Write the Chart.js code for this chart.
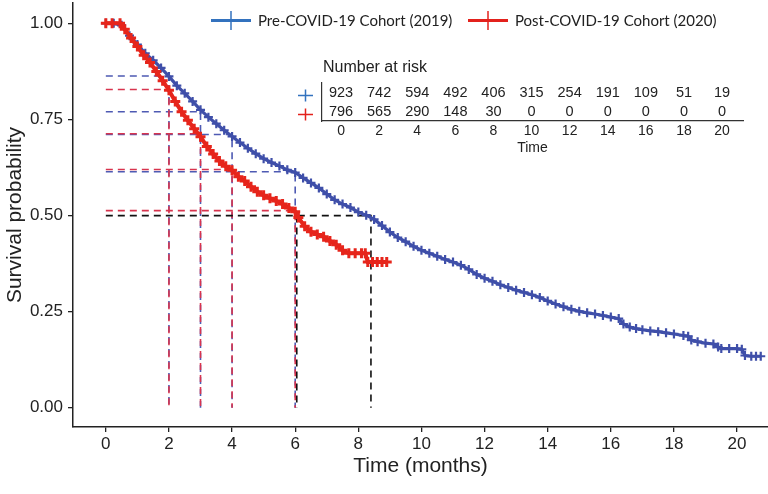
<!DOCTYPE html>
<html>
<head>
<meta charset="utf-8">
<script src="https://cdn.jsdelivr.net/npm/chart.js@4"></script>
<style>
  html, body { margin: 0; padding: 0; background: #fff; }
  #wrap { position: relative; width: 768px; height: 494px; }
  #main-box { position: absolute; left: 0; top: 0; width: 768px; height: 494px; }
  #risk-box { position: absolute; left: 290px; top: 50px; width: 470px; height: 110px; }
  .key {
    position: absolute; top: 10px; height: 20px;
    display: flex; align-items: center;
    font: 15px Lato, "Open Sans", sans-serif; color: #222; white-space: nowrap;
  }
  .swatch { position: relative; width: 40px; height: 3px; margin-right: 7px; }
  .swatch::after {
    content: ""; position: absolute; left: 19px; top: -8px; width: 2px; height: 19px;
    background: inherit; opacity: 0.75;
  }
</style>
</head>
<body>
<div id="wrap">
  <div id="main-box"><canvas id="kmChart"></canvas></div>
  <div id="risk-box"><canvas id="riskChart"></canvas></div>
  <div class="key" style="left:211px"><span class="swatch" style="background:#3372be"></span>Pre-COVID-19 Cohort (2019)</div>
  <div class="key" style="left:468px"><span class="swatch" style="background:#e3211c"></span>Post-COVID-19 Cohort (2020)</div>
</div>

<script>
/* ── Kaplan-Meier curves ─────────────────────────────────────────────── */
const groupNames = ["Pre-COVID-19 Cohort (2019)", "Post-COVID-19 Cohort (2020)"];

const preTimes = [
  0, 0.25, 0.5, 0.75, 1, 1.25, 1.5, 1.75, 2, 2.25, 2.5, 2.75, 3, 3.25, 3.5, 3.75,
  4, 4.25, 4.5, 4.75, 5, 5.25, 5.5, 5.75, 6, 6.25, 6.5, 6.75, 7, 7.25, 7.5, 7.75,
  8, 8.25, 8.5, 8.75, 9, 9.25, 9.5, 9.75, 10, 10.25, 10.5, 10.75, 11, 11.25, 11.5, 11.75,
  12, 12.25, 12.5, 12.75, 13, 13.25, 13.5, 13.75, 14, 14.25, 14.5, 14.75, 15, 15.25, 15.5, 15.75,
  16, 16.25, 16.4, 16.6, 16.8, 17, 17.25, 17.5, 17.75, 18, 18.3, 18.45, 18.55, 18.75, 19, 19.25,
  19.4, 19.5, 19.75, 20, 20.15, 20.25, 20.45, 20.6, 20.75
];
const preSurv = [
  1.0, 1.0, 0.995, 0.968, 0.945, 0.922, 0.904, 0.884, 0.862, 0.838, 0.818, 0.797, 0.775, 0.756, 0.739, 0.722,
  0.706, 0.690, 0.675, 0.661, 0.648, 0.638, 0.629, 0.619, 0.612, 0.598, 0.585, 0.572, 0.556, 0.541, 0.530, 0.521,
  0.509, 0.501, 0.490, 0.474, 0.457, 0.443, 0.432, 0.420, 0.410, 0.402, 0.394, 0.386, 0.379, 0.371, 0.360, 0.347,
  0.337, 0.329, 0.320, 0.313, 0.306, 0.300, 0.294, 0.287, 0.278, 0.270, 0.263, 0.256, 0.251, 0.247, 0.244, 0.240,
  0.236, 0.232, 0.218, 0.210, 0.206, 0.203, 0.200, 0.198, 0.195, 0.192, 0.188, 0.186, 0.176, 0.172, 0.168, 0.166,
  0.158, 0.154, 0.154, 0.154, 0.152, 0.136, 0.134, 0.134, 0.134
];

const postTimes = [
  0, 0.2, 0.45, 0.6, 0.8, 1, 1.2, 1.4, 1.6, 1.8, 2, 2.2, 2.4, 2.6, 2.8, 3, 3.2, 3.4, 3.6, 3.8,
  4, 4.2, 4.4, 4.6, 4.8, 5, 5.2, 5.4, 5.6, 5.8, 6, 6.1, 6.3, 6.5, 6.7, 6.9, 7.1, 7.3, 7.5, 7.7,
  7.9, 8.1, 8.22, 8.3, 8.45, 8.6, 8.75, 8.9
];
const postSurv = [
  1.0, 1.0, 1.0, 0.985, 0.962, 0.940, 0.917, 0.898, 0.875, 0.851, 0.826, 0.797, 0.770, 0.748, 0.726, 0.705, 0.680, 0.660, 0.642, 0.628,
  0.618, 0.601, 0.590, 0.575, 0.562, 0.553, 0.545, 0.538, 0.530, 0.520, 0.510, 0.495, 0.472, 0.458, 0.451, 0.445, 0.434, 0.424, 0.410, 0.402,
  0.402, 0.402, 0.402, 0.379, 0.379, 0.379, 0.379, 0.379
];

/* ── Landmark & median reference lines ───────────────────────────────── */
const landmarkTimes = [2, 3, 4, 6];
const preLandmarkSurv = [0.863, 0.770, 0.711, 0.614];
const postLandmarkSurv = [0.828, 0.713, 0.620, 0.513];
const medianSurv = 0.5;
const medianTimes = [8.4, 6.05];   // pre, post

/* ── Number at risk table ────────────────────────────────────────────── */
const riskTimes = [0, 2, 4, 6, 8, 10, 12, 14, 16, 18, 20];
const preAtRisk = [923, 742, 594, 492, 406, 315, 254, 191, 109, 51, 19];
const postAtRisk = [796, 565, 290, 148, 30, 0, 0, 0, 0, 0, 0];

/* ── Axis ticks ──────────────────────────────────────────────────────── */
const xTicks = [0, 2, 4, 6, 8, 10, 12, 14, 16, 18, 20];
const yTicks = [0, 0.25, 0.5, 0.75, 1];

const colors = {
  pre: "#3f4fa9", post: "#e6251b",
  preDash: "#4e5ab3", postDash: "#d8344e", median: "#111",
  preKey: "#3372be", postKey: "#e3211c", axis: "#222"
};

const pts = (xs, ys) => xs.map((x, i) => ({ x, y: ys[i] }));
const dashLine = (pts, color) => ({
  data: pts, borderColor: color, borderWidth: 1.6, borderDash: [7, 5],
  pointRadius: 0, fill: false, tension: 0
});

/* ── Datasets: first one is drawn on top ─────────────────────────────── */
const datasets = [
  {
    label: groupNames[1], data: pts(postTimes, postSurv),
    borderColor: colors.post, backgroundColor: colors.post, borderWidth: 4,
    pointStyle: "cross", pointRadius: 5, pointBorderWidth: 3, tension: 0
  },
  {
    label: groupNames[0], data: pts(preTimes, preSurv),
    borderColor: colors.pre, backgroundColor: colors.pre, borderWidth: 3.2,
    pointStyle: "cross", pointRadius: 4.5, pointBorderWidth: 2.2, tension: 0
  },
  dashLine([{ x: 0, y: medianSurv }, { x: medianTimes[0], y: medianSurv }, { x: medianTimes[0], y: 0 }], colors.median),
  dashLine([{ x: medianTimes[1], y: medianSurv }, { x: medianTimes[1], y: 0 }], colors.median),
];
landmarkTimes.forEach((t, i) => {
  datasets.push(dashLine([{ x: 0, y: postLandmarkSurv[i] }, { x: t, y: postLandmarkSurv[i] }, { x: t, y: 0 }], colors.postDash));
});
landmarkTimes.forEach((t, i) => {
  datasets.push(dashLine([{ x: 0, y: preLandmarkSurv[i] }, { x: t, y: preLandmarkSurv[i] }, { x: t, y: 0 }], colors.preDash));
});

const axisFont = { family: "'Liberation Sans', Arial, sans-serif", size: 17 };
const titleFont = { family: "'Liberation Sans', Arial, sans-serif", size: 21 };
const tickGrid = { display: true, drawOnChartArea: false, drawTicks: true, tickLength: 5, color: colors.axis, lineWidth: 1.3 };

// drop the auto label padding so the plot area sits where the figure has it
const noPad = (s) => { s.paddingLeft = 0; s.paddingRight = 0; s.paddingTop = 0; s.paddingBottom = 0; };

new Chart(document.getElementById("kmChart"), {
  type: "line",
  data: { datasets },
  options: {
    responsive: true,
    maintainAspectRatio: false,
    animation: false,
    layout: { autoPadding: false, padding: { top: 3, right: 0, left: 0, bottom: 0 } },
    plugins: { legend: { display: false }, tooltip: { enabled: false } },
    scales: {
      x: {
        type: "linear", min: -1.04, max: 20.98,
        afterBuildTicks: (s) => { s.ticks = xTicks.map((v) => ({ value: v })); },
        afterFit: (s) => { s.height = 67; noPad(s); },
        grid: tickGrid,
        border: { display: true, color: colors.axis, width: 1.5 },
        ticks: { font: axisFont, color: "#222", padding: 2, maxRotation: 0, callback: (v) => String(v) },
        title: { display: true, text: "Time (months)", font: titleFont, color: "#222", padding: { top: 4, bottom: 15 } }
      },
      y: {
        type: "linear", min: -0.05, max: 1.053,
        afterBuildTicks: (s) => { s.ticks = yTicks.map((v) => ({ value: v })); },
        afterFit: (s) => { s.width = 73; noPad(s); },
        grid: tickGrid,
        border: { display: true, color: colors.axis, width: 1.5 },
        ticks: { font: axisFont, color: "#222", padding: 5, callback: (v) => v.toFixed(2) },
        title: { display: true, text: "Survival probability", font: titleFont, color: "#222", padding: { top: 3, bottom: 0 } }
      }
    }
  }
});

/* ── Number-at-risk inset ────────────────────────────────────────────── */
const riskFont = "14.5px 'Liberation Sans', Arial, sans-serif";

const riskLabels = {
  id: "riskLabels",
  afterDatasetsDraw(chart) {
    const { ctx, chartArea } = chart;
    const rows = [preAtRisk, postAtRisk];
    const keyColors = [colors.preKey, colors.postKey];
    ctx.save();
    ctx.fillStyle = "#222";
    ctx.textAlign = "center";
    ctx.textBaseline = "middle";
    ctx.font = riskFont;
    rows.forEach((vals, d) => {
      const meta = chart.getDatasetMeta(d);
      meta.data.forEach((el, i) => ctx.fillText(String(vals[i]), el.x, el.y));
      // little legend key left of the table
      const y = meta.data[0].y + 3;
      const x0 = chartArea.left - 24;
      ctx.strokeStyle = keyColors[d];
      ctx.lineWidth = 1.5;
      ctx.beginPath();
      ctx.moveTo(x0, y); ctx.lineTo(x0 + 15, y);
      ctx.moveTo(x0 + 7.5, y - 6); ctx.lineTo(x0 + 7.5, y + 6);
      ctx.stroke();
    });
    ctx.textAlign = "left";
    ctx.font = "16px 'Liberation Sans', Arial, sans-serif";
    ctx.fillText("Number at risk", chartArea.left + 1, chartArea.top - 15);
    ctx.restore();
  }
};

new Chart(document.getElementById("riskChart"), {
  type: "line",
  data: {
    labels: groupNames,
    datasets: [
      { data: riskTimes.map((t) => ({ x: t, y: groupNames[0] })), showLine: false, pointRadius: 0 },
      { data: riskTimes.map((t) => ({ x: t, y: groupNames[1] })), showLine: false, pointRadius: 0 }
    ]
  },
  options: {
    responsive: true,
    maintainAspectRatio: false,
    animation: false,
    layout: { autoPadding: false, padding: { top: 33, left: 32, right: 17, bottom: 0 } },
    plugins: { legend: { display: false }, tooltip: { enabled: false } },
    scales: {
      x: {
        type: "linear", min: -1.0, max: 21.1,
        afterBuildTicks: (s) => { s.ticks = xTicks.map((v) => ({ value: v })); },
        afterFit: (s) => { s.height = 39; noPad(s); },
        grid: { display: false, drawTicks: false },
        border: { display: true, color: "#333", width: 1.2 },
        ticks: { font: { family: "'Liberation Sans', Arial, sans-serif", size: 14 }, color: "#222", padding: 2, maxRotation: 0 },
        title: { display: true, text: "Time", font: { family: "'Liberation Sans', Arial, sans-serif", size: 14 }, color: "#222", padding: { top: 0, bottom: 3 } }
      },
      y: {
        type: "category", offset: true,
        afterFit: (s) => { s.width = 0; noPad(s); },
        grid: { display: false, drawTicks: false },
        border: { display: true, color: "#333", width: 1.2 },
        ticks: { display: false }
      }
    }
  },
  plugins: [riskLabels]
});
</script>
</body>
</html>
